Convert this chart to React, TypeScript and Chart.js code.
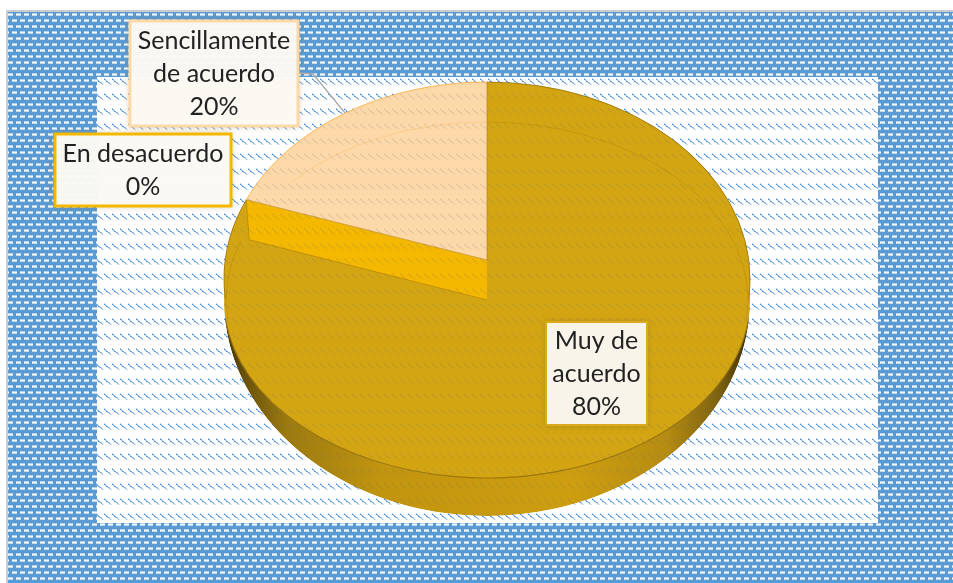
import React, { useEffect, useRef } from "react";
import { Chart, registerables } from "chart.js";

Chart.register(...registerables);

const categories = ["Muy de acuerdo", "Sencillamente de acuerdo", "En desacuerdo"];
const percentages = [80, 20, 0];
const sliceColors = ["#D4A513", "#FDD9A9", "#F5B800"];
const labelBoxes = [
  { x: 546, y: 322, w: 101, h: 103, bw: 2, lines: ["Muy de", "acuerdo", "80%"], fill: "#F8F4EA", border: "#D9AB1C" },
  { x: 130, y: 21, w: 168, h: 105, bw: 3, lines: ["Sencillamente", "de acuerdo", "20%"], fill: "rgba(254,251,246,0.96)", border: "#FDD9A9" },
  { x: 55, y: 134, w: 176, h: 72, bw: 3, lines: ["En desacuerdo", "0%"], fill: "rgba(252,251,247,0.96)", border: "#F5B800" },
];

// Projection of the tilted disc (perspective: apex sits above the centre of the top ellipse)
const PIE = { cx: 487, rx: 263, topC: 279, topR: 197, apexY: 260, faceC: 300, faceR: 178, faceApexY: 300, baseR: 216, tilt: 0.1 };

function tile(w: number, h: number, draw: (c: CanvasRenderingContext2D) => void) {
  const t = document.createElement("canvas");
  t.width = w;
  t.height = h;
  draw(t.getContext("2d")!);
  return t;
}

const outerTile = () =>
  tile(8, 12, (c) => {
    c.fillStyle = "#5B9BD5";
    c.fillRect(0, 0, 8, 12);
    [[1, 0.55], [2, 0.95], [3, 0.6]].forEach(([y, a]) => {
      c.fillStyle = `rgba(255,255,255,${a})`;
      c.fillRect(0, y, 5, 1);
      c.fillRect(4, y + 6, 4, 1);
      c.fillRect(0, y + 6, 1, 1);
    });
  });

const innerTile = (ink: (a: number) => string, k: number) =>
  tile(8, 15, (c) => {
    const dots = [[0, 3, 0.35], [0, 4, 1], [1, 4, 0.6], [1, 5, 0.5], [2, 5, 0.5], [2, 6, 1], [3, 6, 0.7], [3, 7, 0.35], [4, 7, 0.85], [5, 7, 0.4], [5, 8, 0.7], [6, 8, 0.25], [6, 9, 0.5], [7, 9, 0.2]];
    dots.forEach(([x, y, a]) => {
      c.fillStyle = ink(a * k);
      c.fillRect(x, y, 1, 1);
    });
  });

const pie3d = {
  id: "pie3d",
  beforeDraw(chart: any) {
    const { ctx, width, height } = chart;
    ctx.save();
    ctx.fillStyle = "#FFFFFF";
    ctx.fillRect(0, 0, width, height);
    ctx.fillStyle = ctx.createPattern(outerTile(), "repeat");
    ctx.fillRect(8, 12, width - 8, height - 12);
    ctx.strokeStyle = "#C9CDD2";
    ctx.lineWidth = 2;
    ctx.strokeRect(7, 11, width, height);
    ctx.fillStyle = "#FFFFFF";
    ctx.fillRect(97, 77, 781, 446);
    ctx.fillStyle = ctx.createPattern(innerTile((a) => `rgba(70,140,215,${a})`, 1), "repeat");
    ctx.fillRect(97, 77, 781, 446);
    ctx.restore();
  },
  beforeDatasetsDraw(chart: any) {
    const { ctx } = chart;
    const meta = chart.getDatasetMeta(0);
    const [gold, peach, amber] = meta.data;
    const R = gold.outerRadius;
    const gx = gold.x;
    const gy = gold.y;
    const colors = meta.controller.getDataset().backgroundColor;

    const drawAt = (el: any, cy: number, ry: number, color: any, rot = 0) => {
      const saved = el.options;
      el.options = { ...saved, backgroundColor: color, borderWidth: 0 };
      ctx.save();
      ctx.translate(PIE.cx, cy);
      ctx.scale(PIE.rx / R, ry / R);
      ctx.rotate(rot);
      ctx.translate(-gx, -gy);
      el.draw(ctx);
      ctx.restore();
      el.options = saved;
    };

    // face of the large slice
    drawAt(gold, PIE.faceC, PIE.faceR, colors[0]);
    drawAt(gold, PIE.topC, PIE.topR, colors[0]);
    drawAt(gold, PIE.topC, PIE.topR, colors[0], PIE.tilt);

    // outer wall: crescent between the face's lower edge and the base
    const side = ctx.createLinearGradient(gx - R, 0, gx + R, 0);
    side.addColorStop(0, "#3E3006");
    side.addColorStop(0.04, "#6A5209");
    side.addColorStop(0.12, "#9C7A10");
    side.addColorStop(0.3, "#C2950F");
    side.addColorStop(0.66, "#CE9E10");
    side.addColorStop(0.84, "#B68C12");
    side.addColorStop(0.94, "#7E6210");
    side.addColorStop(1, "#3E3006");
    ctx.save();
    ctx.beginPath();
    ctx.ellipse(PIE.cx, PIE.faceC, PIE.rx, PIE.baseR, 0, 0, Math.PI);
    ctx.ellipse(PIE.cx, PIE.faceC, PIE.rx, PIE.faceR, 0, Math.PI, 0, true);
    ctx.closePath();
    ctx.clip();
    drawAt(gold, PIE.faceC, PIE.baseR, side);
    ctx.restore();

    // corner where the upper slice meets the rim
    const a = peach.startAngle + PIE.tilt;
    const px = PIE.cx + PIE.rx * Math.cos(a);
    const py = PIE.topC + PIE.topR * Math.sin(a);
    const lowerX = px + 3;
    const lowerY = py + (PIE.faceApexY - PIE.apexY);

    // amber wall between the slices
    ctx.save();
    ctx.fillStyle = colors[2];
    ctx.beginPath();
    ctx.moveTo(PIE.cx, PIE.apexY);
    ctx.lineTo(px, py);
    ctx.lineTo(lowerX, lowerY);
    ctx.lineTo(PIE.cx, PIE.faceApexY);
    ctx.closePath();
    ctx.fill();
    ctx.strokeStyle = "rgba(170,125,10,0.6)";
    ctx.lineWidth = 1;
    ctx.beginPath();
    ctx.moveTo(px, py);
    ctx.lineTo(lowerX, lowerY);
    ctx.lineTo(PIE.cx, PIE.faceApexY);
    ctx.stroke();
    ctx.restore();
    if (amber.circumference > 0) drawAt(amber, PIE.topC, PIE.topR, colors[2]);

    // upper slice, trimmed to the raised apex
    ctx.save();
    ctx.beginPath();
    ctx.moveTo(PIE.cx, PIE.apexY);
    ctx.lineTo(px, py);
    ctx.lineTo(px - 60, py);
    ctx.lineTo(px - 60, 40);
    ctx.lineTo(PIE.cx, 40);
    ctx.closePath();
    ctx.clip();
    drawAt(peach, PIE.topC, PIE.topR, colors[1], PIE.tilt);
    drawAt(peach, PIE.topC, PIE.topR, colors[1]);
    ctx.restore();
    ctx.save();
    ctx.strokeStyle = "rgba(178,130,20,0.65)";
    ctx.lineWidth = 1;
    ctx.beginPath();
    ctx.moveTo(PIE.cx, PIE.topC - PIE.topR);
    ctx.lineTo(PIE.cx, PIE.apexY);
    ctx.lineTo(px, py);
    ctx.stroke();
    ctx.strokeStyle = "rgba(250,180,80,0.9)";
    ctx.beginPath();
    ctx.ellipse(PIE.cx, PIE.topC, PIE.rx, PIE.topR, 0, a, -Math.PI / 2);
    ctx.stroke();
    ctx.restore();

    // edges of the face
    ctx.save();
    ctx.strokeStyle = "rgba(150,112,8,0.9)";
    ctx.lineWidth = 1.2;
    ctx.beginPath();
    ctx.ellipse(PIE.cx, PIE.faceC, PIE.rx, PIE.faceR, 0, 0.12, Math.PI - 0.12);
    ctx.stroke();
    ctx.strokeStyle = "rgba(185,140,12,0.6)";
    ctx.lineWidth = 1;
    ctx.beginPath();
    ctx.ellipse(PIE.cx, PIE.faceC, PIE.rx - 2, PIE.faceR, 0, -Math.PI / 2, 0.12);
    ctx.stroke();
    ctx.strokeStyle = "rgba(250,190,110,0.5)";
    ctx.beginPath();
    ctx.ellipse(PIE.cx, PIE.faceC, PIE.rx - 2, PIE.faceR, 0, -Math.PI / 2 - 0.85, -Math.PI / 2);
    ctx.stroke();
    ctx.strokeStyle = "rgba(185,140,12,0.6)";
    ctx.beginPath();
    ctx.ellipse(PIE.cx, PIE.faceC, PIE.rx - 2, PIE.faceR, 0, Math.PI - 0.12, Math.PI + 0.34);
    ctx.stroke();
    ctx.restore();

    // thin dark outline on the disc
    ctx.save();
    ctx.strokeStyle = "rgba(150,112,10,0.75)";
    ctx.lineWidth = 1;
    ctx.beginPath();
    ctx.ellipse(PIE.cx, PIE.topC, PIE.rx, PIE.topR, 0, -Math.PI / 2, 0.1);
    ctx.stroke();
    ctx.beginPath();
    ctx.ellipse(PIE.cx, PIE.topC, PIE.rx, PIE.topR, 0, Math.PI - 0.1, a);
    ctx.stroke();
    ctx.restore();

    // the plot's texture shows faintly through the pie
    ctx.save();
    ctx.beginPath();
    ctx.ellipse(PIE.cx, PIE.topC, PIE.rx, PIE.topR, 0, Math.PI, 0);
    ctx.lineTo(PIE.cx + PIE.rx, PIE.faceC);
    ctx.ellipse(PIE.cx, PIE.faceC, PIE.rx, PIE.baseR, 0, 0, Math.PI);
    ctx.closePath();
    ctx.clip();
    ctx.fillStyle = ctx.createPattern(innerTile((v) => `rgba(90,105,125,${v})`, 0.2), "repeat");
    ctx.fillRect(97, 77, 781, 446);
    ctx.restore();

    return false;
  },
  afterDraw(chart: any) {
    const { ctx } = chart;
    ctx.save();
    // leader line
    ctx.strokeStyle = "#ABABAB";
    ctx.lineWidth = 1.3;
    ctx.beginPath();
    ctx.moveTo(299, 73);
    ctx.lineTo(313, 74);
    ctx.lineTo(345, 113);
    ctx.stroke();

    labelBoxes.forEach((b) => {
      ctx.save();
      ctx.shadowColor = "rgba(120,100,40,0.4)";
      ctx.shadowBlur = 7;
      ctx.fillStyle = b.fill;
      ctx.fillRect(b.x, b.y, b.w, b.h);
      ctx.restore();
      ctx.strokeStyle = b.border;
      ctx.lineWidth = b.bw;
      ctx.strokeRect(b.x, b.y, b.w, b.h);
      ctx.fillStyle = "#222222";
      ctx.font = "25px Lato";
      ctx.textAlign = "center";
      ctx.textBaseline = "middle";
      const lh = 33;
      const top = b.y + b.h / 2 - ((b.lines.length - 1) * lh) / 2;
      b.lines.forEach((t, i) => ctx.fillText(t, b.x + b.w / 2, top + i * lh));
    });
    ctx.restore();
  },
};

export default function App() {
  const ref = useRef<HTMLCanvasElement>(null);
  useEffect(() => {
    document.body.style.margin = "0";
    const chart = new Chart(ref.current!, {
      type: "pie",
      data: {
        labels: categories,
        datasets: [{ data: percentages, backgroundColor: sliceColors, borderWidth: 0 }],
      },
      options: {
        responsive: false,
        animation: false,
        layout: { padding: 0 },
        plugins: { legend: { display: false }, tooltip: { enabled: false } },
      },
      plugins: [pie3d],
    } as any);
    return () => chart.destroy();
  }, []);
  return <canvas ref={ref} width={953} height={583} style={{ display: "block" }} />;
}
